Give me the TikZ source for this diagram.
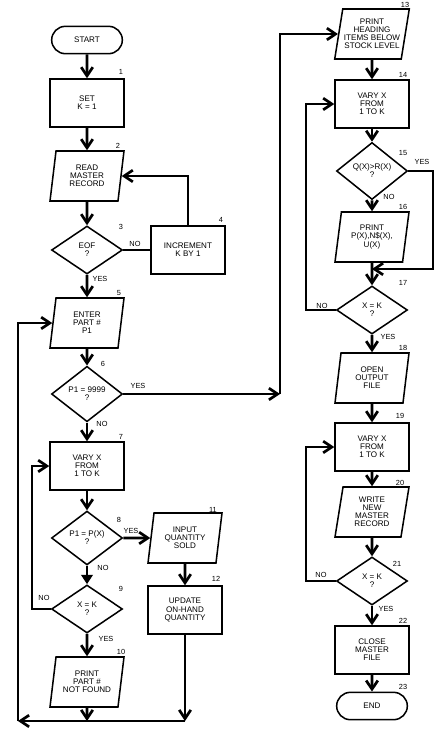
\documentclass[tikz,border=0pt]{standalone}
\usepackage{fontspec}
\setmainfont{Liberation Sans}
\usetikzlibrary{arrows.meta, shapes.geometric, shapes.misc}
\newcommand{\fcfont}{\fontsize{6.9}{6.9}\selectfont}
\newcommand{\fcsmall}{\fontsize{6.3}{6.3}\selectfont}

\begin{document}
\begin{tikzpicture}[x=0.03cm, y=-0.03cm,
    every node/.style={font=\fcfont, align=center, inner sep=1pt},
    blk/.style={draw, line width=1.3pt, minimum width=2.22cm, minimum height=1.44cm},
    io/.style={draw, line width=1.3pt, trapezium, trapezium left angle=76,
      trapezium right angle=104, trapezium stretches body,
      minimum width=2.22cm, minimum height=1.5cm},
    dec/.style={draw, line width=1.3pt, diamond, minimum width=2.13cm, minimum height=1.44cm},
    term/.style={draw, line width=1.3pt, rounded rectangle, minimum width=2.19cm, minimum height=0.82cm},
    num/.style={font=\fcsmall},
    yn/.style={font=\fcsmall},
    flow/.style={line width=2.3pt, -{Straight Barb[length=2.6mm, width=3.5mm]}},
    link/.style={line width=2.3pt}]
    \useasboundingbox (0,0) rectangle (446,748);

    % left column
    \node[term] (start) at (87,40) {START};
    \node[blk] (s1) at (87,103) {SET\\K = 1};
    \node[io] (s2) at (87,176) {READ\\MASTER\\RECORD};
    \node[dec] (s3) at (87,250) {EOF\\?};
    \node[blk] (s4) at (188,250) {INCREMENT\\K BY 1};
    \node[io] (s5) at (87,323) {ENTER\\PART \#\\P1};
    \node[dec] (s6) at (87,394) {P1 = 9999\\?};
    \node[blk] (s7) at (87,466) {VARY X\\FROM\\1 TO K};
    \node[dec] (s8) at (87,538) {P1 = P(X)\\?};
    \node[dec] (s9) at (87,609) {X = K\\?};
    \node[io] (s10) at (87,682) {PRINT\\PART \#\\NOT FOUND};
    \node[io] (s11) at (185,538) {INPUT\\QUANTITY\\SOLD};
    \node[blk] (s12) at (185,610) {UPDATE\\ON-HAND\\QUANTITY};

    % right column
    \node[io] (s13) at (372,34) {PRINT\\HEADING\\ITEMS BELOW\\STOCK LEVEL};
    \node[blk] (s14) at (372,104) {VARY X\\FROM\\1 TO K};
    \node[dec] (s15) at (372,171) {Q(X)>R(X)\\?};
    \node[io] (s16) at (372,237) {PRINT\\P(X),N\$(X),\\U(X)};
    \node[dec] (s17) at (372,310) {X = K\\?};
    \node[io] (s18) at (372,378) {OPEN\\OUTPUT\\FILE};
    \node[blk] (s19) at (372,447) {VARY X\\FROM\\1 TO K};
    \node[io] (s20) at (372,512) {WRITE\\NEW\\MASTER\\RECORD};
    \node[dec] (s21) at (372,581) {X = K\\?};
    \node[blk] (s22) at (372,650) {CLOSE\\MASTER\\FILE};
    \node[term] (s23) at (372,706) {END};

    \coordinate (j6) at (280,394);
    \coordinate (j0) at (18,721);
    \coordinate (j10) at (87,721);
    \coordinate (j12) at (185,721);
    \coordinate (j9) at (32,609);
    \coordinate (j15) at (433,269);
    \coordinate (j16) at (372,269);
    \coordinate (j17) at (306,310);
    \coordinate (j21) at (306,581);

    \foreach \a/\b in {start/s1, s1/s2, s2/s3, s3/s5, s5/s6, s6/s7, s7/s8, s9/s10,
      s8/s11, s11/s12, s13/s14, s14/s15, s15/s16, s16/s17, s17/s18, s18/s19,
      s19/s20, s20/s21, s21/s22, s22/s23}
      \draw[flow] (\a) -- (\b);
    \draw[link] (s3) -- (s4);
    \draw[flow] (s4.north) |- (s2.east);
    \draw[flow] (s6) -- (j6);
    \draw[flow] (j6) |- (s13.west);
    \draw[line width=2.3pt, -{Triangle[length=2.8mm, width=3.4mm]}] (s8) -- (s9);
    \draw[flow] (s9.west) -- (j9) |- (s7.west);
    \draw[flow] (s10) -- (j10);
    \draw[flow] (s12) -- (j12);
    \draw[flow] (j12) -- (j0);
    \draw[flow] (j0) |- (s5.west);
    \draw[flow] (s15.east) -| (j15) -- (j16);
    \draw[flow] (s17.west) -- (j17) |- (s14.west);
    \draw[flow] (s21.west) -- (j21) |- (s19.west);

    \foreach \t/\x/\y [count=\i] in {NO/135/244, YES/100/279, YES/138/386, NO/102/424,
      YES/131/531, NO/103/568, NO/44/598, YES/106/639, YES/422/162, NO/389/197,
      NO/322/306, YES/388/337, NO/321/575, YES/386/609}
      \node[yn] (yn\i) at (\x,\y) {\t};

    \foreach \n/\x/\y in {1/121/72, 2/118/146, 3/121/227, 4/221/220, 5/119/293,
      6/103/364, 7/121/437, 8/119/520, 9/121/589, 10/121/652, 11/213/510,
      12/216/579, 13/405/5, 14/403/75, 15/403/153, 16/403/207, 17/403/283,
      18/403/348, 19/400/416, 20/400/483, 21/397/564, 22/403/621, 23/403/687}
      \node[num] (n\n) at (\x,\y) {\n};
\end{tikzpicture}
\end{document}
